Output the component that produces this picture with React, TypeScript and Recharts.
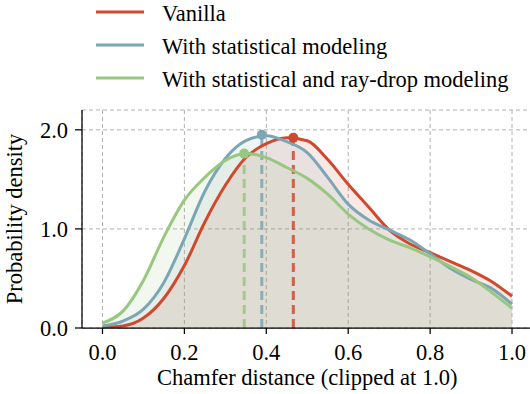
import React from "react";
import {
  ComposedChart,
  Area,
  Line,
  XAxis,
  YAxis,
  CartesianGrid,
  ReferenceLine,
  ReferenceDot,
} from "recharts";

const xs = [0, 0.05, 0.1, 0.15, 0.2, 0.25, 0.3, 0.35, 0.4, 0.45, 0.5, 0.55, 0.6, 0.65, 0.7, 0.75, 0.8, 0.85, 0.9, 0.95, 1.0];
const vanilla = [0.005, 0.02, 0.1, 0.3, 0.63, 1.07, 1.44, 1.72, 1.86, 1.92, 1.89, 1.7, 1.45, 1.22, 0.99, 0.85, 0.76, 0.67, 0.58, 0.47, 0.32];
const statistical = [0.02, 0.07, 0.19, 0.46, 0.9, 1.38, 1.71, 1.89, 1.94, 1.88, 1.77, 1.52, 1.25, 1.09, 0.99, 0.89, 0.75, 0.6, 0.49, 0.4, 0.24];
const rayDrop = [0.05, 0.17, 0.48, 0.92, 1.29, 1.52, 1.69, 1.76, 1.72, 1.62, 1.51, 1.35, 1.15, 1.0, 0.89, 0.81, 0.72, 0.62, 0.51, 0.36, 0.2];

const seriesNames = ["Vanilla", "With statistical modeling", "With statistical and ray-drop modeling"];
const seriesKeys = ["vanilla", "statistical", "rayDrop"];
const seriesColors = ["#d0492e", "#7ba6b3", "#98c77f"];
const peakX = [0.466, 0.389, 0.346];
const peakY = [1.92, 1.95, 1.76];

const xTicks = [0, 0.2, 0.4, 0.6, 0.8, 1.0];
const yTicks = [0, 1, 2];

const data = xs.map((x, i) => ({
  x,
  vanilla: vanilla[i],
  statistical: statistical[i],
  rayDrop: rayDrop[i],
}));

const FONT = '"Liberation Serif", "Times New Roman", serif';
const FS = 22.5;
const tickStyle = { fill: "#000", fontSize: FS, fontFamily: FONT };

function Legendish() {
  return (
    <svg width={530} height={100} style={{ position: "absolute", left: 0, top: 0 }}>
      {seriesNames.map((name, i) => (
        <g key={name}>
          <line x1={96} x2={144} y1={12 + i * 33} y2={12 + i * 33} stroke={seriesColors[i]} strokeWidth={3} />
          <text x={162} y={20.5 + i * 33} fontSize={FS} fontFamily={FONT} fill="#000">
            {name}
          </text>
        </g>
      ))}
    </svg>
  );
}

export default function App() {
  return (
    <div style={{ position: "fixed", left: 0, top: 0, width: 530, height: 394, overflow: "hidden", background: "#fff" }}>
      <ComposedChart
        width={545}
        height={394}
        data={data}
        margin={{ top: 110, right: 12.5, bottom: 6, left: 22 }}
      >
        <CartesianGrid stroke="#b0b0b0" strokeDasharray="4 3" strokeWidth={1} />
        <XAxis
          dataKey="x"
          type="number"
          domain={[-0.05, 1.05]}
          ticks={xTicks}
          tickFormatter={(v: number) => v.toFixed(1)}
          allowDataOverflow
          height={60}
          tickSize={6}
          tickMargin={10}
          tick={tickStyle}
          axisLine={{ stroke: "#000", strokeWidth: 1.25 }}
          tickLine={{ stroke: "#000", strokeWidth: 1.25 }}
          label={{
            content: (p: any) => (
              <text
                x={p.viewBox.x + p.viewBox.width / 2}
                y={p.viewBox.y + p.viewBox.height - 3}
                textAnchor="middle"
                fontSize={FS}
                fontFamily={FONT}
                fill="#000"
              >
                Chamfer distance (clipped at 1.0)
              </text>
            ),
          }}
        />
        <XAxis
          xAxisId="top"
          orientation="top"
          dataKey="x"
          type="number"
          domain={[-0.05, 1.05]}
          height={0}
          tick={false}
          tickLine={false}
          axisLine={{ stroke: "#000", strokeWidth: 1.25 }}
        />
        <YAxis
          type="number"
          domain={[0, 2.2]}
          ticks={yTicks}
          tickFormatter={(v: number) => v.toFixed(1)}
          allowDataOverflow
          width={60}
          tickSize={7}
          tickMargin={7}
          tick={tickStyle}
          axisLine={{ stroke: "#000", strokeWidth: 1.25 }}
          tickLine={{ stroke: "#000", strokeWidth: 1.25 }}
          label={{
            content: (p: any) => {
              const cx = p.viewBox.x;
              const cy = p.viewBox.y + p.viewBox.height / 2;
              return (
                <text
                  x={cx}
                  y={cy}
                  transform={`rotate(-90, ${cx}, ${cy})`}
                  textAnchor="middle"
                  fontSize={FS}
                  fontFamily={FONT}
                  fill="#000"
                >
                  Probability density
                </text>
              );
            },
          }}
        />
        {seriesKeys.map((k, i) => (
          <Area
            key={"a" + k}
            type="monotone"
            dataKey={k}
            stroke="none"
            fill={seriesColors[i]}
            fillOpacity={0.12}
            isAnimationActive={false}
            dot={false}
            activeDot={false}
          />
        ))}
        {seriesKeys.map((k, i) => (
          <ReferenceLine
            key={"r" + k}
            segment={[
              { x: peakX[i], y: 0 },
              { x: peakX[i], y: peakY[i] },
            ]}
            stroke={seriesColors[i]}
            strokeWidth={3}
            strokeDasharray="9 5"
            strokeOpacity={0.85}
          />
        ))}
        {seriesKeys.map((k, i) => (
          <Line
            key={"l" + k}
            type="monotone"
            dataKey={k}
            stroke={seriesColors[i]}
            strokeWidth={3}
            dot={false}
            activeDot={false}
            isAnimationActive={false}
          />
        ))}
        {seriesKeys.map((k, i) => (
          <ReferenceDot key={"d" + k} x={peakX[i]} y={peakY[i]} r={5} fill={seriesColors[i]} stroke="none" />
        ))}
      </ComposedChart>
      <Legendish />
    </div>
  );
}
